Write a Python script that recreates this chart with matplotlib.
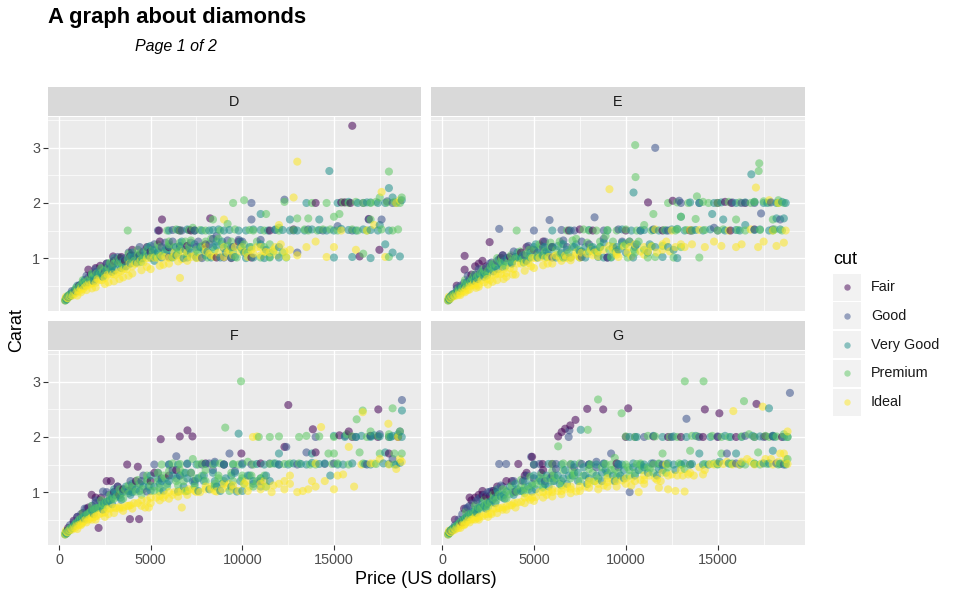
import numpy as np
import matplotlib.pyplot as plt
from matplotlib.patches import Rectangle
from matplotlib.lines import Line2D

plt.rcParams['font.family'] = ['Liberation Sans', 'DejaVu Sans']

cuts = ["Fair", "Good", "Very Good", "Premium", "Ideal"]
cut_colors = ["#440154", "#3B528B", "#21908C", "#5DC863", "#FDE725"]
facets = ["D", "E", "F", "G"]
x_ticks = [0, 5000, 10000, 15000]
y_ticks = [1, 2, 3]

# (price, carat), per colour facet and cut
D_fair = [(1100,0.5),(1600,0.79),(1750,0.7),(2250,0.86),(2600,0.9),(2950,1.03),(3400,1.02),(3900,1.04),
          (5460,1.5),(5620,1.7),(6590,1.5),(7200,1.5),(7400,1.5),(8250,1.72),(8600,1.01),(9400,1.0),
          (10500,1.01),(15400,2.01),(15600,2.01),(15900,2.0),(16000,3.4),(16400,1.03),(17480,1.15),(16900,1.71),
          (3600,0.95),(4400,1.05),(5000,1.12),(6000,1.2),(7000,1.22),(8000,1.25),(9800,1.3),(11500,1.5),
          (12800,1.52),(14000,2.0)]
D_good = [(500,0.3),(900,0.42),(1300,0.55),(1800,0.7),(2300,0.81),(2500,0.75),(3000,0.9),(3600,1.0),
          (4100,1.01),(4600,1.12),(5400,1.5),(6200,1.51),(6700,1.5),(7100,1.51),(7500,1.2),(8600,1.4),
          (9500,1.2),(10500,2.0),(11000,1.33),(12300,2.06),(10500,1.7),(13000,1.1),(14400,1.5),
          (15200,1.58),(16900,1.7),(17600,1.7),(17900,2.03),
          (700,0.4),(1100,0.5),(1600,0.65),(2000,0.75),(2800,0.85),(3300,0.95),(3900,1.02),(4300,1.05),
          (5000,1.1),(5600,1.2),(6000,1.02),(6600,1.22),(7800,1.0),(8200,1.25),(9000,1.01),(10000,1.3),
          (11800,1.51),(12800,1.5),(13600,1.52),(16000,1.5),(16600,2.0),(18200,2.0)]
D_vgood = [(340,0.23),(420,0.25),(520,0.3),(650,0.32),(800,0.38),(950,0.4),(1100,0.46),(1300,0.5),
           (1500,0.55),(1700,0.6),(1900,0.63),(2100,0.7),(2300,0.73),(2600,0.8),(2900,0.85),(3200,0.9),
           (3500,0.95),(3800,1.0),(4100,1.02),(4400,1.05),(4700,1.1),(5000,1.01),(5400,1.1),(5800,1.15),
           (6200,1.02),(6600,1.2),(7000,1.01),(7500,1.01),(8000,1.05),(8800,1.01),(9600,1.02),(10200,1.0),
           (11200,1.0),(12000,1.01),(7800,1.5),(8400,1.51),(9000,1.5),(9800,1.5),(10600,1.52),(11400,1.5),
           (12200,1.51),(13000,1.5),(13800,1.52),(14600,1.5),(15400,1.53),(16200,1.5),(17000,1.51),
           (18000,1.5),(13500,2.0),(14200,1.7),(15000,1.01),(14750,2.58),(16800,2.01),(17400,2.0),
           (18000,2.27),(18200,2.1),(18600,1.03),(18200,1.1),(17800,1.25),(17500,1.6),
           (380,0.27),(460,0.3),(560,0.33),(700,0.36),(870,0.42),(1000,0.5),(1200,0.52),(1400,0.6),
           (1600,0.56),(1800,0.7),(2000,0.62),(2200,0.76),(2450,0.7),(2750,0.9),(3050,0.78),(3350,1.0),
           (3650,0.85),(3950,1.05),(4250,0.92),(4550,1.0),(4850,1.2),(5200,0.95),(5600,1.01),(6000,1.22),
           (6400,1.05),(6800,1.0),(7200,1.1),(7700,1.2),(8300,1.01),(8600,1.22),(9100,1.1),(9400,1.01),
           (9900,1.2),(10600,1.01),(11500,1.02),(6000,1.5),(6500,1.51),(7000,1.52),(7400,1.5),(8200,1.5),
           (8700,1.52),(9300,1.51),(10200,1.5),(11000,1.51),(11800,1.52),(12600,1.5),(13400,1.5),
           (14200,1.51),(15000,1.5),(15800,1.51),(16600,1.52),(17400,1.5),(15200,2.0),(15800,2.02),
           (16300,2.0),(17000,2.01),(17800,2.0),(18400,2.0),(18700,2.05),(16000,1.02),(17000,1.0),
           (12600,1.7),(11000,1.8)]
D_premium = [(360,0.24),(450,0.28),(560,0.3),(700,0.34),(850,0.4),(1000,0.45),(1200,0.5),(1400,0.54),
             (1600,0.6),(1850,0.66),(2050,0.72),(2400,0.76),(2700,0.83),(3000,0.9),(3300,0.92),(3750,1.5),
             (3900,1.01),(4300,1.05),(4600,1.01),(5100,1.15),(5500,1.2),(6000,1.25),(6400,1.52),(6900,1.3),
             (7300,1.55),(7700,1.51),(8400,1.7),(9200,1.62),(9500,2.0),(10100,2.05),(10600,1.5),(11300,1.8),
             (12000,1.55),(12400,1.01),(13000,1.72),(13400,1.52),(14100,1.5),(14800,1.52),(15300,1.8),
             (15800,2.0),(16300,1.5),(17000,2.0),(17500,2.1),(18000,2.57),(18300,2.02),(18500,1.52),
             (18000,1.02),(16600,1.08),(13800,2.0),(12300,2.02),
             (400,0.26),(500,0.32),(620,0.35),(780,0.38),(920,0.46),(1100,0.48),(1300,0.56),(1500,0.58),
             (1750,0.64),(1950,0.7),(2250,0.72),(2550,0.82),(2850,0.8),(3150,0.95),(3450,0.9),(3750,0.98),
             (4100,0.95),(4450,1.1),(4800,1.05),(5300,1.02),(5800,1.1),(6200,1.01),(6600,1.15),(7100,1.22),
             (7600,1.1),(8100,1.01),(8900,1.25),(9700,1.01),(10300,1.1),(11000,1.01),(11700,1.12),(5900,1.5),
             (6600,1.5),(7100,1.51),(8000,1.5),(8800,1.5),(9600,1.52),(10400,1.51),(11200,1.5),(12000,1.5),
             (12800,1.51),(13600,1.5),(14400,1.52),(15200,1.5),(16000,1.52),(16800,1.5),(17600,1.52),
             (18200,1.5),(15500,2.01),(16200,2.02),(16600,2.0),(17300,2.02),(17900,2.01),(18600,2.0),
             (18700,2.1),(14600,2.0),(11500,1.01),(13600,1.72),(15000,1.75),(17000,1.7)]
D_ideal = [(330,0.23),(380,0.3),(480,0.27),(600,0.31),(750,0.32),(900,0.36),(1100,0.4),(1300,0.43),
           (1500,0.5),(1700,0.52),(2000,0.55),(2200,0.6),(2500,0.64),(2800,0.7),(3100,0.7),(3400,0.77),
           (3700,0.8),(4000,0.85),(4300,0.9),(4600,0.92),(5000,1.0),(5400,1.0),(5800,1.02),(6300,1.1),
           (6600,0.64),(6800,1.12),(7400,1.05),(8000,1.2),(8700,1.1),(9300,1.14),(9900,1.12),(10500,1.15),
           (11000,1.2),(11500,1.1),(12100,1.25),(13000,2.75),(14000,1.3),(14600,1.02),(15400,1.5),
           (16200,1.15),(17200,1.6),(17600,2.2),(18400,2.0),(18600,2.05),(12800,2.1),
           (350,0.26),(420,0.28),(520,0.3),(660,0.33),(820,0.36),(1000,0.4),(1200,0.45),(1400,0.47),
           (1600,0.53),(1850,0.55),(2100,0.62),(2350,0.6),(2650,0.7),(2950,0.71),(3250,0.75),(3550,0.8),
           (3850,0.9),(4150,0.9),(4450,0.96),(4800,1.0),(5200,1.01),(5600,1.04),(6000,1.0),(6500,1.05),
           (7000,1.1),(7700,1.01),(8300,1.05),(9000,1.02),(9600,1.2),(10200,1.1),(10800,1.2),(11300,1.11),
           (11800,1.2),(12400,1.02),(13500,1.2),(15000,1.2),(17800,1.02),(16800,1.5),(9000,1.7),(12000,1.6)]

# extra points filling the thick lower band of each panel
D_fair_band = [(2000,0.82),(3000,0.95),(4000,1.15),(5500,1.3),(4800,1.2)]
D_good_band = [(1500,0.68),(2000,0.8),(2600,0.9),(3200,1.02),(3800,1.1),(4400,1.2),(5200,1.25),(6200,1.3),
               (7200,1.28),(8400,1.35),(9800,1.33),(5800,1.28),(7600,1.3),(9200,1.32)]
D_vgood_band = [(1400,0.5),(1900,0.58),(2400,0.66),(2900,0.75),(3400,0.82),(3900,0.9),(4400,0.98),(4900,1.05),
                (5400,1.12),(5900,1.15),(6400,1.2),(6900,1.15),(7400,1.25),(7900,1.15),(8400,1.2),(8900,1.3),
                (9400,1.2),(9900,1.3),(10400,1.2),(11000,1.25),(12000,1.2),(3000,1.0),(4000,1.1),(5000,1.22),
                (5200,1.15),(6200,1.1),(7100,1.18),(8100,1.12),(9000,1.18),(10100,1.1),(11300,1.15),(6700,1.3),
                (8600,1.3)]
D_premium_band = [(1300,0.6),(1800,0.72),(2300,0.82),(2800,0.92),(3300,1.0),(3800,1.08),(4300,1.15),(4800,1.15),
                  (5400,1.25),(6000,1.3),(6600,1.28),(7200,1.32),(8000,1.3),(8700,1.35),(9400,1.3),(10100,1.25),
                  (10800,1.3),(2500,0.7),(3500,0.85),(4500,0.93),(5500,1.05),(6500,1.1),(7500,1.15),(8500,1.15),
                  (9500,1.12),(10500,1.2),(11500,1.25),(5100,1.08),(6300,1.2),(7000,1.05),(7800,1.22),(9200,1.22),
                  (10000,1.15),(11200,1.2),(12200,1.1),(8300,1.35)]
D_ideal_band = [(1000,0.32),(1500,0.42),(2000,0.47),(2500,0.53),(3000,0.58),(3500,0.65),(4000,0.72),(4500,0.78),
                (5000,0.8),(5500,0.86),(6000,0.9),(6500,0.94),(7000,0.95),(7500,1.0),(8500,1.02),(9500,1.05),
                (10300,1.02),(11000,1.05),(11700,1.15),(12300,1.12),(1200,0.38),(1800,0.45),(2700,0.56),
                (3300,0.62),(3800,0.68),(4800,0.84),(5700,0.88),(6700,0.98),(8000,1.12),(9000,1.2),
                (6200,1.02),(7200,1.02),(8200,1.08),(9200,1.1),(10000,1.2),(10600,1.08),(11200,1.12),(11900,1.05),
                (12600,1.15),(13000,1.05)]

E_fair = [(800,0.5),(1230,0.79),(1230,1.04),(1600,0.7),(2000,0.9),(2590,1.29),(3200,1.0),(4300,1.1),
          (6900,1.5),(7500,1.52),(8200,1.5),(9000,1.01),(11210,2.01),(12550,2.04),(13500,1.5),(15000,2.0),
          (15400,2.02),(15750,2.0),(15700,1.5),(17000,1.52),
          (1800,0.85),(2200,0.95),(3700,1.02),(5000,1.15),(6000,1.2),(10000,1.5),(12000,1.5),(16500,2.0)]
E_good = [(600,0.35),(1000,0.5),(1500,0.62),(2100,0.76),(2600,0.9),(3110,1.53),(3500,1.0),(4000,1.02),
          (5000,1.5),(5500,1.2),(5850,1.69),(6500,1.51),(7200,1.5),(8300,1.74),(8800,1.5),(9600,1.52),
          (10200,1.3),(11600,3.0),(12900,2.04),(13600,1.5),(14800,1.55),(16300,2.0),(17360,1.81),
          (17900,2.01),(18400,1.7),
          (800,0.45),(1200,0.55),(1800,0.7),(2400,0.82),(3000,0.95),(4500,1.05),(5200,1.1),(6000,1.01),
          (6800,1.2),(7600,1.02),(8000,1.25),(9000,1.01),(10800,1.5),(11500,1.52),(12300,1.5),(13000,2.0),
          (14000,2.0),(15000,1.5),(15800,2.01),(17000,2.0),(18000,1.52)]
E_vgood = [(330,0.23),(400,0.25),(480,0.3),(600,0.32),(750,0.36),(900,0.4),(1050,0.45),(1250,0.5),
           (1450,0.55),(1650,0.6),(1850,0.65),(2050,0.7),(2300,0.72),(2600,0.8),(2900,0.85),(3200,0.9),
           (3600,1.0),(4000,1.01),(4400,1.05),(4800,1.1),(5200,1.01),(5700,1.12),(6200,1.01),(6700,1.02),
           (7200,1.2),(7800,1.01),(8500,1.02),(9200,1.01),(10000,1.1),(10420,2.19),(10800,1.5),(11500,1.51),
           (12200,1.5),(12800,1.53),(13500,2.01),(14200,1.5),(14800,2.0),(15300,1.7),(16000,1.51),
           (16500,2.01),(16830,2.52),(17300,1.52),(17700,2.0),(18200,1.72),(18500,2.02),(18700,2.0),
           (18400,1.52),(6000,1.5),(7000,1.5),(8000,1.51),(9000,1.5),(9800,1.52),
           (370,0.27),(440,0.29),(540,0.33),(680,0.35),(830,0.4),(980,0.46),(1150,0.48),(1350,0.56),
           (1550,0.58),(1750,0.66),(1950,0.62),(2200,0.75),(2450,0.7),(2750,0.88),(3050,0.8),(3400,0.95),
           (3800,0.9),(4200,1.0),(4600,0.95),(5000,1.2),(5500,1.05),(6000,1.2),(6500,1.1),(7000,1.01),
           (7500,1.12),(8200,1.2),(8800,1.01),(9500,1.2),(10400,1.01),(11200,1.1),(12000,1.02),(12800,1.0),
           (10300,1.5),(11000,1.51),(11800,1.5),(12500,1.52),(13200,1.5),(13800,1.51),(14600,1.52),
           (15400,1.5),(16200,1.5),(17000,1.51),(17800,1.5),(14000,2.0),(15200,2.01),(16000,2.0),
           (17000,2.02),(17500,2.0),(18200,2.0),(18600,1.72),(16500,1.6),(13000,1.75),(14700,1.8)]
E_premium = [(350,0.24),(430,0.28),(550,0.3),(680,0.33),(820,0.38),(980,0.42),(1150,0.47),(1350,0.52),
             (1550,0.57),(1750,0.61),(2000,0.68),(2200,0.71),(2500,0.77),(2800,0.81),(3000,1.0),(3300,0.9),
             (4060,1.5),(3800,0.95),(4200,1.02),(4600,1.08),(5000,1.15),(5400,1.22),(5900,1.2),(6400,1.3),
             (6800,1.5),(7300,1.35),(7700,1.52),(8400,1.5),(8900,1.4),(9500,1.5),(10100,1.01),(10510,3.05),
             (10530,2.47),(11000,1.6),(11600,1.02),(12300,2.0),(12700,1.5),(13300,1.51),(13870,2.12),
             (14000,1.01),(14500,2.0),(15000,1.5),(15600,2.02),(16100,1.51),(16800,2.0),(17230,2.58),
             (17260,2.72),(17500,2.03),(18000,1.5),(18300,2.05),(18600,2.0),(11500,1.8),(13000,1.75),
             (380,0.26),(470,0.3),(600,0.34),(750,0.37),(900,0.44),(1080,0.46),(1250,0.54),(1450,0.55),
             (1650,0.64),(1900,0.66),(2100,0.73),(2350,0.74),(2650,0.85),(2950,0.87),(3200,0.95),(3600,0.92),
             (4000,1.0),(4400,0.98),(4800,1.01),(5200,1.05),(5700,1.02),(6200,1.15),(6600,1.01),(7100,1.2),
             (7500,1.01),(8000,1.12),(8600,1.2),(9200,1.02),(9800,1.22),(10500,1.1),(11200,1.01),(12600,1.01),
             (8000,1.5),(9000,1.51),(10000,1.52),(10600,1.5),(11400,1.5),(12100,1.51),(12800,1.52),
             (13600,1.5),(14300,1.51),(15300,1.52),(16500,1.5),(17300,1.51),(18100,1.52),(18500,1.5),
             (12800,2.01),(13400,2.0),(14200,2.02),(15000,2.0),(16200,2.01),(17000,2.02),(17800,2.01),
             (18300,2.0),(13800,1.71),(16000,1.7),(18000,1.7)]
E_ideal = [(330,0.23),(370,0.3),(450,0.26),(560,0.3),(700,0.31),(850,0.33),(1000,0.36),(1200,0.4),
           (1400,0.42),(1600,0.5),(1800,0.5),(2000,0.52),(2300,0.56),(2600,0.6),(2900,0.7),(3200,0.71),
           (3500,0.73),(3900,0.8),(4300,0.9),(4700,0.91),(5100,1.0),(5600,1.0),(6100,1.03),(6700,1.05),
           (7300,1.1),(7900,1.08),(8500,1.12),(9110,2.25),(9300,1.2),(9900,1.21),(10500,1.25),(11000,1.2),
           (11600,1.52),(12200,1.3),(13000,1.25),(13500,1.51),(14300,1.2),(15200,1.22),(16300,1.25),
           (17080,2.28),(17200,1.2),(17800,2.05),(18600,1.28),(18700,1.5),(18300,2.0),(7500,1.01),(9600,1.02),
           (350,0.26),(410,0.28),(500,0.3),(630,0.32),(780,0.35),(930,0.38),(1100,0.41),(1300,0.45),
           (1500,0.5),(1700,0.53),(1900,0.56),(2150,0.6),(2450,0.62),(2750,0.7),(3050,0.72),(3350,0.8),
           (3700,0.82),(4100,0.9),(4500,0.92),(4900,1.0),(5300,1.01),(5800,1.02),(6400,1.0),(7000,1.01),
           (7600,1.1),(8200,1.05),(8800,1.15),(9500,1.1),(10200,1.2),(10800,1.12),(11400,1.21),(12000,1.15),
           (12700,1.2),(13600,1.25),(14800,1.3),(16000,1.2),(17500,1.3),(18200,1.22),(12500,1.5),(14000,1.51),
           (15600,1.5),(16800,1.52),(18000,1.5)]

E_fair_band = [(2400,0.85),(3300,1.05),(4600,1.2),(5500,1.3)]
E_good_band = [(1400,0.68),(2000,0.8),(2700,0.92),(3300,1.05),(3900,1.12),(4700,1.22),(5600,1.3),(6600,1.32),
               (7600,1.3),(8800,1.35),(9800,1.3)]
E_vgood_band = [(1300,0.5),(1800,0.58),(2300,0.66),(2800,0.76),(3300,0.84),(3800,0.92),(4300,1.0),(4800,1.02),
                (5300,1.15),(5800,1.1),(6300,1.22),(6800,1.15),(7300,1.25),(7800,1.2),(8300,1.15),(8800,1.28),
                (9300,1.2),(9800,1.28),(10500,1.2),(11300,1.25),(12300,1.2),(3100,0.98),(4100,1.1),(5100,1.25),
                (5600,1.2),(6600,1.25),(7600,1.12),(8600,1.2),(9600,1.15),(10600,1.25),(11600,1.2),(12600,1.15)]
E_premium_band = [(1250,0.6),(1750,0.7),(2250,0.8),(2750,0.9),(3250,1.0),(3750,1.05),(4250,1.12),(4750,1.15),
                  (5300,1.25),(5900,1.28),(6500,1.25),(7100,1.32),(7900,1.28),(8600,1.3),(9300,1.3),(10000,1.25),
                  (10700,1.3),(2450,0.68),(3450,0.85),(4450,0.92),(5450,1.05),(6450,1.08),(7450,1.15),(8450,1.1),
                  (9450,1.12),(10450,1.15),(11400,1.22),(5600,1.12),(6900,1.1),(8100,1.2),(9100,1.15),(10200,1.3),
                  (11000,1.15),(12000,1.22),(13000,1.2)]
E_ideal_band = [(1000,0.33),(1500,0.43),(2000,0.48),(2500,0.52),(3000,0.6),(3500,0.66),(4000,0.7),(4500,0.77),
                (5000,0.82),(5500,0.87),(6000,0.9),(6500,0.95),(7000,0.96),(7500,1.02),(8500,1.03),(9500,1.06),
                (10300,1.03),(11000,1.06),(11700,1.1),(12400,1.12),(1250,0.38),(1850,0.46),(2750,0.57),
                (3350,0.62),(3850,0.7),(4850,0.85),(5750,0.9),(6750,1.0),(8100,1.15),(9100,1.22),
                (6200,1.05),(7300,1.05),(8300,1.1),(9300,1.15),(10100,1.1),(11200,1.12),(12000,1.25),(13200,1.2)]

F_fair = [(500,0.35),(800,0.48),(1300,0.62),(1780,0.95),(2160,0.35),(2600,1.2),(2830,1.2),(3300,0.95),
          (3720,1.5),(3870,0.51),(4300,1.46),(4370,0.51),(5550,1.96),(6590,2.01),(7010,2.12),(7280,2.01),
          (8000,1.52),(9950,1.7),(12300,1.82),(12510,2.58),(13850,2.14),(15300,2.03),(15810,2.1),
          (17400,2.0),(17420,2.5),(18000,1.7),
          (1000,0.55),(1600,0.72),(2300,0.9),(3000,1.0),(3500,1.05),(5000,1.2),(6000,1.3),(9000,1.5),
          (11000,1.52),(14000,1.72),(16000,2.0),(17000,2.02),(18500,2.0)]
F_good = [(600,0.4),(1000,0.55),(1500,0.7),(2000,0.8),(2400,1.01),(3000,1.0),(3800,1.02),(4500,1.2),
          (5200,1.5),(6000,1.5),(6400,1.65),(7000,1.51),(7800,1.5),(8500,1.55),(9300,1.7),(10000,1.52),
          (11000,1.2),(12000,1.5),(12400,1.82),(13500,1.72),(14500,1.51),(15600,2.02),(16800,1.5),
          (17500,2.05),(18710,2.67),(18200,1.6),
          (800,0.45),(1200,0.6),(1800,0.75),(2200,0.85),(2700,0.95),(3300,1.05),(4000,1.1),(4800,1.01),
          (5600,1.25),(6600,1.3),(7400,1.2),(8200,1.52),(9000,1.5),(10500,1.5),(11500,1.52),(13000,1.5),
          (14000,2.0),(15000,1.52),(16200,2.0),(17000,2.02),(18000,2.0),(18600,2.1)]
F_vgood = [(330,0.23),(420,0.25),(520,0.3),(650,0.33),(800,0.38),(950,0.43),(1150,0.5),(1350,0.55),
           (1550,0.6),(1800,0.66),(2000,0.71),(2300,0.75),(2600,0.82),(2900,0.9),(3200,1.0),(3500,1.0),
           (3800,1.02),(4200,1.05),(4600,1.1),(5000,1.02),(5500,1.15),(6000,1.2),(6500,1.01),(7000,1.25),
           (7600,1.02),(8200,1.05),(8800,1.02),(9400,1.1),(10000,1.02),(10600,1.2),(11200,1.5),(11800,1.52),
           (12500,1.5),(13200,1.51),(13800,1.53),(14500,1.52),(15000,2.02),(15500,1.5),(16200,2.0),
           (16700,1.51),(17200,2.03),(17700,1.52),(18100,2.0),(18600,1.53),(18710,2.48),(18500,2.05),
           (9800,2.06),(6500,1.5),(7500,1.5),(8500,1.52),(9500,1.5),(14800,1.3),
           (370,0.27),(460,0.3),(570,0.33),(720,0.37),(880,0.42),(1050,0.47),(1250,0.52),(1450,0.58),
           (1650,0.63),(1900,0.68),(2150,0.72),(2450,0.8),(2750,0.85),(3050,0.95),(3350,0.9),(3650,1.1),
           (4000,1.0),(4400,1.15),(4800,1.2),(5200,1.1),(5700,1.02),(6200,1.3),(6800,1.1),(7300,1.2),
           (7900,1.3),(8500,1.2),(9100,1.25),(9700,1.01),(10300,1.3),(11000,1.1),(6000,1.5),(7000,1.52),
           (8000,1.51),(9000,1.5),(10000,1.5),(10800,1.51),(12000,1.5),(12800,1.52),(13500,1.5),
           (14200,1.51),(15200,1.5),(16000,1.52),(17000,1.5),(18000,1.51),(18400,1.5),(15600,2.0),
           (16500,2.02),(17000,2.0),(17500,2.01),(18200,2.02),(18700,2.0),(12000,1.7),(13800,1.7),(17800,1.72)]
F_premium = [(350,0.24),(440,0.28),(560,0.3),(700,0.35),(850,0.4),(1000,0.45),(1200,0.52),(1400,0.56),
             (1650,0.62),(1900,0.68),(2150,0.72),(2400,0.78),(2700,0.85),(3000,0.88),(3300,0.95),(3600,1.05),
             (4000,1.1),(4400,1.15),(4800,1.22),(5200,1.02),(5700,1.3),(6200,1.52),(6800,1.35),(7300,1.6),
             (7800,1.52),(8400,1.5),(9070,2.17),(9500,1.51),(9930,3.01),(10300,1.55),(10900,2.0),(11500,1.51),
             (12000,2.01),(12600,1.52),(13100,2.0),(13700,1.5),(14200,2.01),(14700,1.7),(15200,1.52),
             (15700,2.05),(16240,2.32),(16570,2.48),(17000,2.1),(17500,1.7),(18000,2.0),(18200,2.52),
             (18600,2.1),(18700,1.7),(5500,1.01),(7000,1.02),(8500,1.1),
             (380,0.26),(480,0.31),(600,0.34),(760,0.38),(920,0.43),(1100,0.5),(1300,0.54),(1550,0.6),
             (1750,0.66),(2000,0.7),(2300,0.74),(2550,0.82),(2850,0.86),(3150,0.92),(3450,1.0),(3800,0.98),
             (4200,1.01),(4600,1.05),(5000,1.12),(5400,1.2),(5900,1.1),(6400,1.2),(6900,1.02),(7400,1.1),
             (8000,1.2),(8700,1.3),(9300,1.02),(10000,1.25),(10600,1.1),(11200,1.3),(5600,1.5),(6600,1.51),
             (7600,1.5),(8800,1.52),(9800,1.5),(10600,1.5),(11700,1.52),(12300,1.51),(13100,1.52),
             (14000,1.5),(14900,1.51),(15800,1.5),(16600,1.52),(17300,1.51),(18300,1.5),(16000,2.01),
             (16800,2.0),(17400,2.02),(18000,2.05),(18500,2.02),(15000,2.0),(13500,2.02),(11500,2.0),
             (15000,1.7),(16400,1.72),(18300,1.7)]
F_ideal = [(330,0.23),(380,0.3),(460,0.27),(580,0.31),(720,0.32),(880,0.35),(1050,0.4),(1250,0.43),
           (1450,0.5),(1700,0.52),(1950,0.55),(2200,0.6),(2500,0.63),(2800,0.7),(3100,0.71),(3500,0.72),
           (3900,0.76),(4300,0.8),(4700,0.72),(5000,0.9),(5500,0.93),(6000,1.0),(6500,1.0),(6700,0.72),
           (7100,1.05),(7700,1.0),(8300,1.1),(8900,1.05),(9500,1.12),(10100,1.15),(10580,2.0),(10800,2.01),
           (11200,1.2),(12000,1.15),(12600,1.3),(13000,1.0),(13600,1.05),(14000,1.1),(14300,2.18),
           (15000,1.05),(15500,1.32),(15810,1.82),(16100,1.1),(16570,2.45),(17000,1.52),(17500,1.6),
           (17970,2.24),(18400,1.42),(18600,1.6),(18500,2.0),
           (350,0.26),(420,0.28),(520,0.3),(650,0.33),(800,0.36),(960,0.4),(1150,0.42),(1350,0.47),
           (1600,0.5),(1800,0.55),(2050,0.57),(2350,0.62),(2650,0.7),(2950,0.72),(3300,0.73),(3700,0.75),
           (4100,0.8),(4500,0.85),(4900,0.72),(5300,0.9),(5800,0.95),(6300,1.0),(6900,1.01),(7400,1.02),
           (8000,1.05),(8600,1.01),(9200,1.1),(9800,1.02),(10400,1.1),(11000,1.15),(11600,1.0),(12300,1.2),
           (13300,1.02),(14500,1.2),(15200,1.3),(16500,1.5),(17200,1.52),(18000,1.5),(18700,1.55),(14000,1.52)]

F_fair_band = [(2000,0.9),(3200,1.1),(4200,1.2),(5200,1.35),(6400,1.4)]
F_good_band = [(1400,0.7),(2000,0.85),(2600,1.0),(3200,1.1),(3900,1.2),(4600,1.3),(5400,1.35),(6200,1.4),
               (7200,1.35),(8400,1.4),(9600,1.38)]
F_vgood_band = [(1400,0.52),(1900,0.6),(2400,0.68),(2900,0.78),(3400,0.86),(3900,0.95),(4400,1.02),(4900,1.1),
                (5400,1.25),(5900,1.15),(6400,1.25),(6900,1.35),(7400,1.15),(7900,1.2),(8400,1.35),(8900,1.15),
                (9400,1.3),(9900,1.2),(10400,1.3),(11000,1.25),(11500,1.2),(3000,1.05),(4000,1.15),(5000,1.3),
                (5600,1.2),(6600,1.3),(7600,1.25),(8600,1.1),(9600,1.35),(10600,1.15),(11300,1.3)]
F_premium_band = [(1300,0.62),(1800,0.75),(2300,0.85),(2800,0.95),(3300,1.05),(3800,1.12),(4300,1.22),(4800,1.3),
                  (5400,1.35),(6000,1.38),(6600,1.4),(7200,1.35),(8000,1.4),(8700,1.25),(9400,1.35),(10100,1.15),
                  (10800,1.2),(2500,0.72),(3500,0.88),(4500,0.95),(5500,1.08),(6500,1.12),(7500,1.25),(8500,1.15),
                  (9500,1.2),(10500,1.3),(11300,1.1),(5800,1.25),(6800,1.2),(7800,1.3),(9000,1.2),(10000,1.3),
                  (11000,1.25)]
F_ideal_band = [(1000,0.33),(1500,0.45),(2000,0.5),(2500,0.55),(3000,0.62),(3500,0.66),(4000,0.7),(4500,0.75),
                (5000,0.8),(5500,0.85),(6000,0.88),(6500,0.92),(7000,0.95),(7500,1.0),(8500,1.02),(9500,1.05),
                (10300,1.02),(11000,1.05),(11700,1.12),(12300,1.05),(1200,0.4),(1800,0.5),(2700,0.6),(3300,0.7),
                (3800,0.75),(4800,0.85),(5700,0.9),(6700,1.02),(8000,1.1),(9000,1.15),
                (6200,0.95),(7300,1.05),(8300,1.05),(9300,1.15),(10200,1.2),(11300,1.1),(12600,1.15),(13800,1.2)]

G_fair = [(700,0.5),(1100,0.45),(1500,0.9),(1800,0.9),(2200,0.95),(2600,0.93),(2900,1.0),(4150,1.51),
          (4900,1.64),(5470,1.51),(6320,2.01),(6510,2.09),(6700,2.15),(6980,2.21),(7260,2.31),(7900,2.51),
          (8770,2.5),(10130,2.52),(11500,2.01),(12300,2.0),(14200,2.0),(14300,2.5),(15000,2.0),
          (15090,2.43),(17110,2.6),(17600,2.01),(18500,2.0),(9500,1.52),
          (1200,0.7),(1600,0.85),(2000,0.95),(2400,0.92),(2800,1.02),(3500,1.2),(4500,1.3),(5000,1.5),
          (6000,1.51),(8000,1.5),(10000,2.0),(13000,2.0),(16000,2.0),(18000,2.01)]
G_good = [(500,0.3),(900,0.5),(1300,0.7),(1700,0.8),(2100,0.9),(2500,1.0),(3110,1.51),(3490,1.51),
          (4000,1.01),(4850,1.64),(5600,1.2),(6200,1.51),(6890,2.0),(6930,2.12),(7600,1.51),(8400,1.55),
          (9200,1.7),(10210,1.0),(11000,2.0),(12000,1.5),(13300,2.33),(14000,2.0),(15500,1.7),
          (16500,2.02),(17500,2.0),(18930,2.8),(18200,1.52),
          (700,0.4),(1100,0.6),(1500,0.75),(1900,0.85),(2300,0.95),(2700,1.02),(3300,1.1),(4400,1.2),
          (5000,1.25),(5300,1.51),(6000,1.3),(7000,1.5),(8000,1.5),(8800,1.52),(9600,1.5),(10500,2.0),
          (11500,1.52),(12500,2.0),(13500,1.5),(15000,2.01),(16000,1.52),(17000,2.0),(18000,2.02),(18600,1.5)]
G_vgood = [(330,0.23),(420,0.26),(520,0.3),(650,0.33),(800,0.38),(950,0.42),(1150,0.5),(1350,0.55),
           (1550,0.61),(1800,0.68),(2050,0.72),(2300,0.76),(2600,0.82),(2900,0.9),(3200,0.92),(3500,1.0),
           (3900,1.0),(4300,1.02),(4700,1.1),(5100,1.05),(5600,1.15),(6100,1.2),(6600,1.25),(7100,1.3),
           (7550,2.13),(7800,1.3),(8400,1.5),(9000,1.35),(9600,1.51),(10200,2.0),(10800,1.5),(11400,1.52),
           (12000,2.0),(12600,1.5),(13200,1.52),(13800,2.02),(14500,1.5),(15100,1.55),(15700,2.0),
           (16300,1.52),(16900,2.02),(17500,1.52),(17790,2.52),(18100,2.0),(18700,1.5),(18800,2.0),
           (5000,1.5),(5800,1.51),(6500,1.5),(7200,1.5),
           (370,0.27),(460,0.3),(580,0.34),(720,0.37),(880,0.42),(1050,0.47),(1250,0.52),(1450,0.58),
           (1700,0.64),(1950,0.7),(2200,0.8),(2450,0.78),(2750,0.86),(3050,1.0),(3350,0.95),(3700,1.1),
           (4100,1.05),(4500,1.2),(4900,1.01),(5300,1.25),(5800,1.1),(6300,1.3),(6800,1.15),(7400,1.2),
           (8000,1.25),(8700,1.2),(9300,1.3),(9900,1.25),(10500,1.3),(11200,1.35),(12000,1.4),(8000,1.5),
           (8800,1.51),(9800,1.5),(10400,1.52),(11000,1.5),(11800,1.51),(12300,1.52),(13000,1.5),
           (13600,1.51),(14200,1.5),(15000,1.51),(15600,1.52),(16200,1.5),(17000,1.51),(17800,1.52),
           (18400,1.51),(10600,2.0),(11500,2.02),(12600,2.01),(13300,2.0),(14600,2.0),(15400,2.02),
           (16300,2.0),(17300,2.01),(18000,2.02),(18600,2.0),(14000,1.7),(16000,1.7),(18000,1.75)]
G_premium = [(350,0.24),(450,0.29),(560,0.32),(700,0.36),(850,0.4),(1000,0.45),(1200,0.5),(1400,0.56),
             (1600,0.6),(1850,0.66),(2100,0.7),(2350,0.75),(2650,0.8),(2950,0.85),(3300,0.9),(3700,0.96),
             (4100,1.01),(4500,1.08),(4900,1.12),(5300,1.2),(5700,1.25),(6100,1.3),(6320,1.83),(6600,1.52),
             (7100,1.4),(7500,1.52),(7930,2.13),(8100,1.5),(8490,2.68),(8900,1.51),(9400,1.62),(9770,2.43),
             (10000,2.01),(10600,1.51),(11200,2.02),(11800,1.52),(12400,2.0),(13000,1.5),(13210,3.01),
             (13600,2.02),(14230,3.01),(14800,1.52),(15200,2.0),(15800,1.52),(16430,2.65),(16700,2.05),
             (17300,1.5),(17800,2.0),(18400,1.52),(18800,1.6),(18600,2.05),(6000,1.51),(7000,1.51),
             (380,0.26),(480,0.31),(620,0.34),(770,0.38),(930,0.43),(1100,0.48),(1300,0.54),(1500,0.6),
             (1750,0.62),(2000,0.72),(2250,0.74),(2500,0.82),(2800,0.9),(3100,0.95),(3500,1.02),(3900,1.0),
             (4300,1.1),(4700,1.05),(5100,1.15),(5500,1.1),(6000,1.2),(6500,1.2),(7000,1.25),(7700,1.3),
             (8300,1.2),(9000,1.3),(9600,1.35),(10200,1.3),(10900,1.4),(11500,1.35),(12300,1.45),(9200,1.5),
             (10000,1.5),(10800,1.52),(11500,1.5),(12200,1.51),(12900,1.52),(13500,1.5),(14300,1.51),
             (15000,1.5),(15700,1.51),(16500,1.5),(17000,1.52),(17700,1.51),(18300,1.5),(18700,1.52),
             (10500,2.0),(11600,2.01),(12800,2.0),(13900,2.01),(14700,2.02),(15600,2.0),(16300,2.01),
             (17000,2.0),(17600,2.02),(18200,2.01),(18800,2.0),(12000,1.7),(13500,1.75),(15200,1.7),(17200,1.72)]
G_ideal = [(330,0.23),(380,0.3),(470,0.27),(590,0.3),(730,0.32),(890,0.35),(1050,0.4),(1250,0.42),
           (1450,0.5),(1700,0.51),(1950,0.53),(2200,0.56),(2500,0.6),(2800,0.7),(3100,0.71),(3500,0.74),
           (3900,0.8),(4300,0.82),(4700,0.9),(5100,0.91),(5500,1.0),(6000,1.0),(6500,1.02),(7000,1.05),
           (7500,1.1),(8000,1.08),(8500,1.15),(9000,1.1),(9500,1.2),(10000,1.15),(10500,1.2),(11000,1.3),
           (11600,1.25),(12200,1.5),(12700,1.02),(13100,1.3),(13400,1.32),(14000,1.45),(14600,1.51),
           (15000,1.52),(15500,1.55),(15850,2.47),(16200,1.5),(16800,1.55),(17450,2.55),(17600,1.6),
           (18000,1.5),(18400,1.7),(18700,1.6),(18800,2.1),(10700,1.0),(11800,1.08),
           (350,0.26),(420,0.28),(520,0.3),(660,0.33),(810,0.36),(970,0.4),(1150,0.42),(1350,0.46),
           (1600,0.5),(1800,0.55),(2050,0.56),(2350,0.6),(2650,0.62),(2950,0.7),(3300,0.72),(3700,0.76),
           (4100,0.81),(4500,0.9),(4900,0.9),(5300,1.0),(5800,1.01),(6300,1.02),(6800,1.1),(7300,1.01),
           (7800,1.1),(8300,1.2),(8800,1.12),(9300,1.2),(9800,1.21),(10300,1.25),(10800,1.22),(11300,1.3),
           (11900,1.2),(12500,1.32),(13000,1.4),(13700,1.3),(14300,1.4),(14800,1.5),(15300,1.51),(15800,1.5),
           (16300,1.55),(16600,1.6),(17000,1.5),(17400,1.52),(17900,1.6),(18300,1.55),(18600,1.7),
           (18800,1.51),(13200,1.01),(12300,1.05)]

G_fair_band = [(2200,1.02),(3000,1.1),(3800,1.2),(4600,1.35),(5500,1.4)]
G_good_band = [(1400,0.72),(2000,0.88),(2600,1.0),(3200,1.12),(3900,1.2),(4600,1.3),(5400,1.35),(6200,1.42),
               (7200,1.45),(8400,1.45),(9600,1.45)]
G_vgood_band = [(1400,0.55),(1900,0.62),(2400,0.7),(2900,0.8),(3400,0.88),(3900,0.95),(4400,1.02),(4900,1.15),
                (5400,1.2),(5900,1.25),(6400,1.15),(6900,1.3),(7400,1.35),(7900,1.15),(8400,1.3),(8900,1.4),
                (9400,1.2),(9900,1.4),(10400,1.45),(11000,1.45),(11800,1.42),(3000,1.05),(4000,1.15),(5000,1.3),
                (5700,1.3),(6700,1.4),(7700,1.45),(8700,1.35),(9700,1.3),(10700,1.4),(11700,1.3),(12700,1.4)]
G_premium_band = [(1300,0.64),(1800,0.76),(2300,0.86),(2800,0.96),(3300,1.05),(3800,1.12),(4300,1.22),(4800,1.28),
                  (5400,1.32),(6000,1.38),(6600,1.4),(7200,1.35),(8000,1.42),(8700,1.45),(9400,1.42),(10100,1.45),
                  (10800,1.48),(2500,0.72),(3500,0.88),(4500,0.98),(5500,1.08),(6500,1.12),(7500,1.2),(8500,1.25),
                  (9500,1.28),(10500,1.35),(11300,1.42),(6200,1.25),(7200,1.3),(8200,1.35),(9200,1.4),(10200,1.4),
                  (11200,1.45),(12200,1.35),(13200,1.42)]
G_ideal_band = [(1000,0.35),(1500,0.45),(2000,0.5),(2500,0.55),(3000,0.62),(3500,0.68),(4000,0.72),(4500,0.8),
                (5000,0.84),(5500,0.9),(6000,0.92),(6500,0.96),(7000,0.98),(7500,1.02),(8500,1.05),(9500,1.1),
                (10300,1.12),(11000,1.15),(11700,1.22),(12300,1.3),(1200,0.4),(1800,0.5),(2700,0.6),(3300,0.68),
                (3800,0.76),(4800,0.86),(5700,0.95),(6700,1.05),(8000,1.15),(9000,1.25),
                (6000,1.05),(7000,1.1),(8000,1.2),(9000,1.18),(10000,1.25),(11000,1.22),(12000,1.35),(12800,1.3),
                (13500,1.35),(14200,1.32)]

facet_data = {
    "D": [D_fair + D_fair_band, D_good + D_good_band, D_vgood + D_vgood_band,
          D_premium + D_premium_band, D_ideal + D_ideal_band],
    "E": [E_fair + E_fair_band, E_good + E_good_band, E_vgood + E_vgood_band,
          E_premium + E_premium_band, E_ideal + E_ideal_band],
    "F": [F_fair + F_fair_band, F_good + F_good_band, F_vgood + F_vgood_band,
          F_premium + F_premium_band, F_ideal + F_ideal_band],
    "G": [G_fair + G_fair_band, G_good + G_good_band, G_vgood + G_vgood_band,
          G_premium + G_premium_band, G_ideal + G_ideal_band],
}

W, H = 960, 600
fig = plt.figure(figsize=(9.6, 6), dpi=100)
fig.patch.set_facecolor("white")


def fbox(x0, y0, x1, y1):
    return [x0 / W, 1 - y1 / H, (x1 - x0) / W, (y1 - y0) / H]


# panel pixel boxes (left, top, right, bottom)
panels = {"D": (48, 117, 421, 311), "E": (431, 117, 805, 311),
          "F": (48, 351, 421, 545), "G": (431, 351, 805, 545)}

for name in facets:
    x0, y0, x1, y1 = panels[name]
    ax = fig.add_axes(fbox(x0, y0, x1, y1))
    ax.set_facecolor("#EBEBEB")

    price, carat, col = [], [], []
    for pts, c in zip(facet_data[name], cut_colors):
        for p, k in pts:
            price.append(p)
            carat.append(k)
            col.append(c)
    price = np.array(price)
    carat = np.array(carat)
    col = np.array(col)
    # ggplot draws rows in data order (diamonds is sorted by price)
    order = np.argsort(price, kind="stable")
    ax.scatter(price[order], carat[order], c=col[order], s=34, alpha=0.55,
               linewidths=0, zorder=3)

    ax.set_xlim(-600, 19750)
    ax.set_ylim(0.04, 3.56)
    ax.set_xticks(x_ticks)
    ax.set_xticks([2500, 7500, 12500, 17500], minor=True)
    ax.set_yticks(y_ticks)
    ax.set_yticks([0.5, 1.5, 2.5, 3.5], minor=True)
    ax.grid(which="major", color="white", lw=1.0)
    ax.grid(which="minor", color="white", lw=0.5)
    ax.set_axisbelow(True)
    for s in ax.spines.values():
        s.set_visible(False)
    ax.tick_params(which="minor", length=0)
    ax.tick_params(which="major", length=3.5, width=0.8, color="#333333",
                   labelcolor="#4D4D4D", labelsize=10.4, pad=2)
    if name in ("D", "E"):
        ax.tick_params(axis="x", length=0, labelbottom=False)
    if name in ("E", "G"):
        ax.tick_params(axis="y", length=0, labelleft=False)

    # facet strip
    fig.add_artist(Rectangle((x0 / W, 1 - (y0 - 1) / H), (x1 - x0) / W, 29 / H,
                             transform=fig.transFigure, facecolor="#D9D9D9",
                             edgecolor="none"))
    fig.text((x0 + x1) / 2 / W, 1 - (y0 - 15.5) / H, name, ha="center",
             va="center", fontsize=10.4, color="#1A1A1A")

# titles
fig.text(48 / W, 1 - 18 / H, "A graph about diamonds", fontsize=15.8,
         fontweight="bold", ha="left", va="center")
fig.text(135 / W, 1 - 47 / H, "Page 1 of 2", fontsize=11.5, style="italic",
         ha="left", va="center")
fig.text(426 / W, 1 - 580 / H, "Price (US dollars)", fontsize=13,
         ha="center", va="center")
fig.text(17 / W, 1 - 330 / H, "Carat", fontsize=13, rotation=90,
         ha="center", va="center")

# legend
fig.text(833 / W, 1 - 259 / H, "cut", fontsize=13, ha="left", va="center")
for i, (lab, c) in enumerate(zip(cuts, cut_colors)):
    yc = 287 + 28.8 * i
    fig.add_artist(Rectangle((833 / W, 1 - (yc + 13.5) / H), 28 / W, 27 / H,
                             transform=fig.transFigure, facecolor="#F2F2F2",
                             edgecolor="none"))
    fig.add_artist(Line2D([847 / W], [1 - yc / H], marker="o", markersize=4.6,
                          color=c, alpha=0.5, markeredgewidth=0,
                          transform=fig.transFigure))
    fig.text(871 / W, 1 - yc / H, lab, fontsize=10.4, ha="left", va="center",
             color="#1A1A1A")

fig.savefig("out.png", dpi=100)
